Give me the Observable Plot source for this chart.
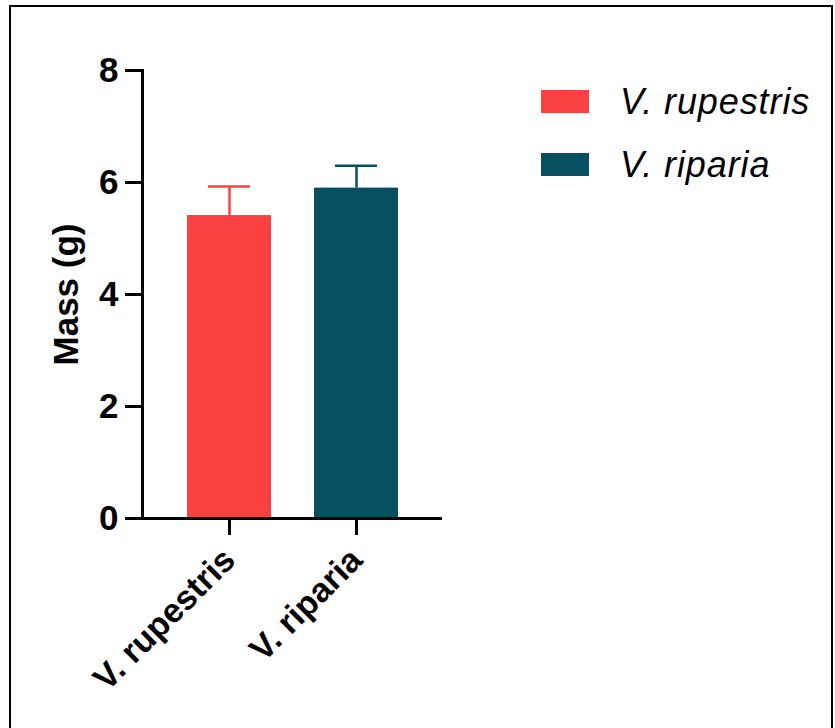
<!DOCTYPE html>
<html><head><meta charset="utf-8">
<script src="https://cdn.jsdelivr.net/npm/d3@7"></script>
<script src="https://cdn.jsdelivr.net/npm/@observablehq/plot@0.6"></script>
<style>
html,body{margin:0;padding:0;background:#fff;overflow:hidden;}
#wrap{position:relative;width:835px;height:728px;overflow:hidden;}
#border{position:absolute;left:9px;top:5px;width:820px;height:800px;border:2px solid #000;pointer-events:none;}
#legend{position:absolute;left:541px;top:70px;font-family:"Liberation Sans",Arial,sans-serif;font-style:italic;font-size:36px;letter-spacing:0.9px;color:#000;}
.item{display:flex;align-items:center;height:63px;}
.sw{width:48px;height:23px;margin-right:31px;}
</style></head><body>
<div id="wrap"><div id="chart"></div><div id="legend"></div><div id="border"></div></div>
<script>
const species = ["V. rupestris", "V. riparia"];
const means = [5.41, 5.90];
const errors = [0.52, 0.40];
const colors = ["#fa4142", "#054f60"];
const yTicks = [0, 2, 4, 6, 8];
const yLabel = "Mass (g)";

const data = species.map((s, i) => ({species: s, mean: means[i], hi: means[i] + errors[i]}));

const chart = Plot.plot({
  width: 835, height: 728,
  marginLeft: 142, marginRight: 393, marginTop: 70, marginBottom: 210,
  style: {fontFamily: '"Liberation Sans", Arial, sans-serif', fontSize: "35px", fontWeight: "bold", color: "#000", background: "transparent"},
  x: {domain: species, paddingInner: 0.339, paddingOuter: 0.35, axis: null},
  y: {domain: [0, 8], axis: null},
  color: {domain: species, range: colors},
  marks: [
    Plot.barY(data, {x: "species", y: "mean", fill: "species"}),
    Plot.ruleX(data, {x: "species", y1: "mean", y2: "hi", stroke: "species", strokeWidth: 2.5}),
    Plot.tickY(data, {x: "species", y: "hi", stroke: "species", strokeWidth: 2.5, insetLeft: 21, insetRight: 21}),
    Plot.frame({anchor: "left", strokeWidth: 3}),
    Plot.ruleY([0], {strokeWidth: 3, insetLeft: -17}),
    Plot.axisY(yTicks, {tickSize: 17, tickPadding: 7, strokeWidth: 3, tickFormat: d => String(d), label: yLabel, labelAnchor: "center", labelOffset: 89, labelArrow: "none", fontSize: 35, fontWeight: "bold"}),
    Plot.axisX({tickSize: 17, strokeWidth: 3, tickRotate: -45, tickPadding: 19, label: null, fontSize: 34, fontWeight: "bold"})
  ]
});
document.getElementById("chart").appendChild(chart);

const legend = document.getElementById("legend");
species.forEach((s, i) => {
  const item = document.createElement("div");
  item.className = "item";
  const sw = document.createElement("div");
  sw.className = "sw";
  sw.style.background = colors[i];
  const t = document.createElement("span");
  t.textContent = s;
  item.appendChild(sw);
  item.appendChild(t);
  legend.appendChild(item);
});
</script>
</body></html>
